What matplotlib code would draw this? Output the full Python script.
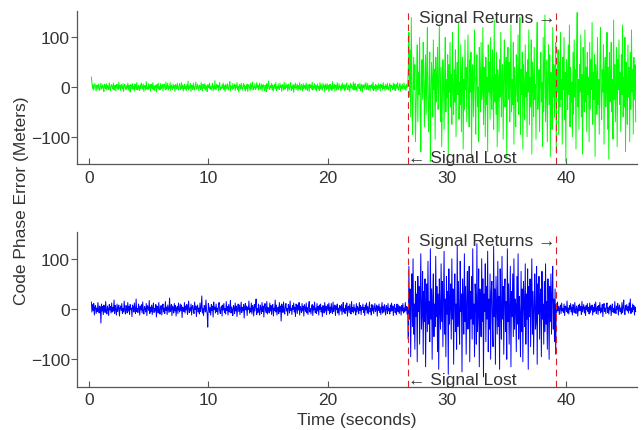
"""Code phase error before and after losing the signal."""

import matplotlib

matplotlib.use("Agg")
import matplotlib.pyplot as plt
import matplotlib.transforms as mtransforms
import numpy as np

plt.rcParams["font.family"] = ["Liberation Sans", "DejaVu Sans"]

# sampling of both traces (seconds)
T_START = 0.2
SAMPLE_DT = 0.05

LOST_T = 26.7
RETURN_T = 39.1

# top trace (green)
GREEN_QUIET = [
    20, 9, -3, 5, -6, 2, 7, -1, -8, 4, 3, -5, 6, -2, -7, 1, 8, -4, 0, 5,
    -3, -9, 6, 2, -4, 7, -6, 3, 1, -5, 9, -2, -7, 4, 5, -1, -3, 8, -6, 2,
    4, -8, 1, 6, -3, -5, 10, -2, 3, -7, 5, 0, -4, 7, -9, 2, 6, -1, -5, 3,
    -2, 8, -6, 4, -1, -10, 5, 3, -4, 7, -3, 1, -8, 6, 2, -5, 9, -2, -6, 4,
    1, -7, 5, -3, 8, -1, -4, 6, -9, 3, 2, -6, 11, -3, 0, -5, 7, -2, 4, -8,
    6, -1, -3, 9, -5, 2, -7, 4, 3, -10, 5, -2, 8, -4, 1, -6, 7, -3, -1, 5,
    -8, 3, 6, -2, -5, 10, -4, 1, 7, -6, 2, -3, 9, -7, 4, 0, -5, 6, -2, 3,
    -9, 5, 2, -4, 8, -1, -6, 3, 7, -5, -2, 9, -3, 4, -8, 1, 6, -4, 2, -7,
    5, -3, 12, -6, 1, -2, 7, -9, 4, 3, -5, 8, -1, -6, 2, 10, -4, -3, 6, -1,
    -7, 4, 2, -5, 9, -2, -8, 6, 1, -3, 7, -6, 3, -1, -9, 5, 4, -2, 8, -4,
    1, -6, 3, 7, -8, 2, -4, 13, -3, -5, 6, -1, 4, -7, 2, 9, -6, 0, -3, 5,
    -2, 8, -5, 3, -9, 6, 1, -4, 7, -2, -6, 4, 11, -8, 3, -1, -5, 7, -3, 2,
    6, -7, 4, -2, 9, -5, 1, -10, 5, 3, -4, 8, -1, -6, 2, 7, -3, 4, -8, 1,
    -3, 6, -9, 2, 5, -1, -7, 8, -4, 3, 10, -6, 1, -2, 7, -5, -3, 9, -1, 4,
    -6, 2, 8, -4, -1, 6, -8, 3, 5, -2, -7, 4, 1, -9, 7, -3, 2, 12, -5, -4,
    3, -1, 7, -6, 4, -8, 2, 5, -3, 9, -7, 1, -4, 6, -2, -5, 8, -1, 3, -9,
    5, 2, -6, 10, -3, -4, 7, -1, 4, -8, 6, -2, -5, 3, 9, -7, 1, -3, 5, -11,
    4, -2, 8, -5, 1, 6, -7, 3, -4, 9, -1, -6, 5, 2, -8, 7, -3, 0, 4, -5,
    8, -3, -7, 5, 2, -9, 6, -1, 3, -4, 10, -6, 1, -2, 7, -5, 4, -8, 2, 6,
    -3, 1, -7, 9, -4, 5, -2, -6, 8, -1, 3, -10, 6, 2, -5, 7, -3, 4, -9, 1,
    6, -4, 2, -7, 11, -3, -1, 5, -8, 4, 3, -6, 9, -2, -5, 7, -1, 2, -8, 5,
    -4, 8, -2, 3, -7, 6, -5, 1, 9, -3, -6, 4, 2, -9, 7, -1, 5, -4, -2, 10,
    -6, 3, 7, -5, 1, -8, 4, 6, -2, -3, 8, -7, 2, 5, -10, 3, -1, 6, -4, 2,
    9, -5, -2, 7, -6, 1, 4, -8, 3, -1, 6, -4, 10, -7, 2, -3, 5, -9, 4, 1,
    -5, 7, -2, 3, -8, 6, -1, 4, -6, 9, -3, 2, -7, 5, 1, -4, 8, -2, -6, 3,
    7, -9, 4, -1, 2, -5, 8, -3, 6, -7, 1, 5, -4, 9, -2, -6, 3, 7, -8, 2,
    -3, 6, -5, 1, 8, -4, 2, -7, 5, -1, 3,
]
GREEN_LOST = [
    35, 110, -20, 75, -60, 140, 15, -95, -30, 60, -5, 45, -110, -40, 20, 85, -70, 30, -15, 100,
    -45, -130, 10, 55, -25, 90, 40, -80, -10, 65, -55, 25, 120, -35, -90, 5, 70, -150, -20, 50,
    15, -60, 95, -5, 35, -105, 60, -30, 10, 80, -45, -15, 125, 20, -70, 40, -120, -25, 55, 5,
    -85, 30, 100, -50, 15, -20, 65, -135, 45, -10, 90, -40, 25, -75, 110, 0, -55, 35, -30, 75,
    -100, 20, 50, -15, 130, -65, 10, -35, 85, -90, 30, 60, -125, 15, -45, 95, -5, 40, -70, 20,
    105, -30, -80, 55, -10, 70, -140, 25, 45, -60, 10, 115, -20, -95, 35, 65, -40, 0, -110, 80,
    30, -50, 90, -25, -5, 120, -75, 40, 15, -100, 60, -35, 20, -130, 85, -10, 50, -65, 100, -15,
    -45, 75, 5, -85, 135, -30, 25, -55, 70, -120, 35, 10, -90, 55, -20, 110, -60, 15, 45, -105,
    20, 95, -40, -10, 60, -145, 30, 80, -25, 50, -70, 5, 125, -50, 15, -35, 90, -115, 40, -5,
    -80, 65, 10, -30, 105, -55, 25, 140, -95, 35, -15, 70, -125, 45, 0, -65, 85, -20, 30, -100,
    55, -10, 115, -75, 20, -40, 95, -135, 50, 15, -60, 80, -25, 5, -105, 60, 130, -45, -15, 35,
    -90, 25, 70, -30, 10, -120, 100, -50, 40, 145, -70, -5, 55, -110, 20, 85, -35, 65, -140, 30,
    15, -85, 120, -20, 45, -60, 5, 90, -130, 35, -10, 75, -95, 50, -40, 110, -25, 15, -115, 60,
    -5, 100, -65, 30, -150, 55, 20, -45, 85, -15, 125, -80, 40, -30, 10, -100, 70, -55, 95, -20,
    35, -125, 60, 150, -40, 15, -85, 45, -10, 105, -60, 25, -135, 80, 5, -50, 115, -30, 40, -90,
    70, -15, 20, -110, 90, -45, 55, -5, 130, -75, 30, -25, 65, -140, 45, 10, -55, 100, -35, 15,
    -95, 50, 120, -20, -65, 35, -10, 85, -115, 25, 60, -40, 5, 110, -85, 40, -145, 70, -30, 20,
    90, -50, 15, -105, 135, -25, 45, -70, 10, 80, -120, 55, -5, 95, -35, 30, -90, 65, -15, 125,
    -60, 20, -40, 100, -130, 50, 5, -75, 85, -20, 40, -110, 70, -45, 115, -10, 35, -95, 60, -25,
    45, -70,
]

# bottom trace (blue)
BLUE_BEFORE = [
    14, -6, 9, -3, 11, -12, 4, 7, -9, 2, -5, 13, -1, -8, 6, 3, -28, 10, -4, 5,
    -11, 8, 2, -7, 15, -3, -10, 6, 1, -13, 9, -2, 5, -8, 12, -6, 3, -4, 18, -9,
    7, -1, -12, 10, -5, 4, 8, -14, 2, 6, -3, 11, -9, 1, -6, 16, -2, -10, 7, 3,
    -8, 13, -4, 5, -11, 9, -1, 2, -15, 8, 4, -6, 12, -3, -9, 20, -5, 1, -7, 10,
    3, -12, 6, -2, 9, -8, 14, -4, -10, 5, 1, -6, 11, -13, 7, 2, -3, 17, -9, 4,
    -5, 8, -11, 3, 12, -7, 1, -4, 9, -16, 6, 2, -8, 13, -1, -10, 5, 7, -12, 3,
    10, -6, 2, -9, 15, -3, 4, -11, 8, 1, -7, 22, -5, -2, 9, -13, 6, 3, -8, 11,
    -4, 7, -14, 2, 5, -9, 12, -1, -6, 10, -3, 8, -17, 4, 1, -5, 13, -8, 6, -2,
    9, -11, 3, 16, -7, 2, -4, 10, -12, 5, 7, -3, -9, 14, -1, 6, -15, 4, 8, -6,
    2, -10, 12, -5, 3, 26, -8, 1, -13, 7, 4, -6, 18, -2, -9, -36, 11, 5, -7, 3,
    -12, 9, -3, 6, -16, 14, -1, 4, -8, 10, -5, 2, -11, 7, 13, -4, -9, 3, 6, -14,
    8, -2, 11, -7, 1, -10, 15, -3, 5, -12, 9, -6, 2, 17, -8, 4, -1, -13, 7, 3,
    -9, 12, -4, 6, -15, 2, 10, -5, 8, -11, 1, 14, -7, 3, -3, 9, -18, 5, 11, -2,
    6, -13, 4, -1, 16, -8, 2, -6, 12, -10, 7, 3, -14, 9, -4, 5, 20, -11, 1, -7,
    10, -3, -12, 8, 2, -9, 13, -5, 6, -16, 4, 11, -2, -7, 15, -10, 3, 1, -8, 12,
    -4, 7, -11, 5, 9, -14, 2, -3, 18, -6, 8, -12, 1, 4, -9, 13, -5, 6, -24, 10,
    3, -7, 14, -2, -10, 6, 11, -4, 1, -13, 9, 5, -8, 16, -3, 2, -11, 7, -1, 12,
    -6, 4, -15, 10, 3, -9, 8, -2, 13, -12, 5, 1, -7, 11, -4, 6, -14, 9, 2, -5,
    12, -8, 3, -11, 7, 15, -6, 1, -10, 4, 9, -13, 6, -2, 14, -7, 2, -9, 11, -4,
    5, -12, 8, -1, 10, -6, 3, -15, 7, 2, -8, 13, -4, 6, -11, 1, 9, -3, 12, -10,
    4, -7, 11, -2, -9, 14, -5, 3, 8, -13, 6, -1, 10, -8, 2, -12, 7, 5, -4, 9,
    -11, 3, 13, -6, 1, -9, 8, -3, 12, -14, 4, 6, -7, 10, -2, -10, 15, -5, 3, -8,
    9, -4, 2, -12, 11, -6, 5, 1, -9, 13, -3, 7, -11, 4, -1, 10, -7, 3, -13, 8,
    -2, 12, -8, 5, -10, 3, 14, -6, 1, -12, 9, -4, 7, -9, 2, 11, -5, -1, 8, -14,
    6, -3, 10, -7, 4, -11, 2, 13, -8, 5, -6, 9, -2, -12, 7, 3, -9, 11, -4, 1,
    -10, 8, -5, 12, -3, 6, -13, 4, 9, -7, 2, -11, 10, -1, -6, 8, -9, 5, 3, -12,
    7, -4, 11, -8, 2, -6, 13, -3, 5, -10, 4,
]
BLUE_LOST = [
    -60, 85, -20, 40, -95, 15, 70, -35, 100, -50, 10, -80, 55, -15, 30, -105, 65, -5, 45, -70,
    20, 110, -40, -10, 75, -90, 35, -25, 60, -115, 5, 50, -45, 95, -30, 15, -65, 120, -20, 40,
    -100, 25, 70, -55, 10, -35, 105, -15, 45, -85, 30, -120, 60, 0, -40, 90, -25, 55, -75, 15,
    115, -50, 20, -95, 65, -10, 35, -130, 80, -30, 5, 50, -60, 100, -20, 40, -110, 25, 70, -45,
    10, -80, 125, -35, 55, -15, -70, 95, -5, 30, -125, 60, 20, -50, 110, -25, 45, -90, 15, 75,
    -40, 5, 85, -105, 35, -20, 65, -60, 120, -30, 10, -95, 50, 25, -70, 130, -45, -10, 80, -115,
    40, 15, -55, 100, -25, 60, -135, 30, -5, 90, -65, 45, -20, 115, -85, 20, -40, 70, -100, 35,
    55, -30, -75, 125, -15, 40, -110, 65, 10, -50, 95, -35, 25, -120, 80, -5, -60, 105, -20, 45,
    -90, 30, 60, -45, 15, -100, 120, -25, 50, -70, 5, 85, -115, 35, -15, 70, -55, 100, -40, 20,
    10, -85, 65, -30, 110, -60, 25, -10, -95, 75, -45, 40, -105, 55, 15, -35, 90, -70, 30, -20,
    80, -120, 45, -15, 60, -75, 20, 100, -50, 35, -90, 5, 70, -40, -25, 85, -110, 50, -10, 65,
    -60, 25, 40, -95, 75, -20, 10, -70, 55, -45, 90, -30, 15, -80, 60, -5, -100, 45, -25, 70,
    -50, 30, 85, -40, 20, -65, 40, -90,
]
BLUE_AFTER = [
    9, -6, 14, -3, 5, -11, 2, 8, -9, 12, -4, 1, -7, 10, -13, 6, 3, -5, 16, -8,
    2, -10, 7, -1, 11, -6, 4, -12, 9, 3, -7, 13, -2, -9, 6, 1, -14, 8, -4, 10,
    -3, 5, -11, 15, -6, 2, 9, -8, 4, -13, 7, -1, 11, -5, 3, -10, 12, -7, 6, -2,
    8, -12, 3, -6, 10, -4, 14, -9, 1, 5, -11, 7, -3, 13, -8, 2, -6, 9, -15, 4,
    11, -5, 2, -9, 7, 12, -7, 3, -10, 6, -2, 8, -13, 4, 10, -6, 1, -8, 15, -3,
    -9, 6, -1, 11, -12, 4, 8, -5, 2, -10, 13, -7, 3, 18, -6, -11, 7, -2, 9, -4,
    5, -8, 12, -3, 20, -9, 2, -6, 10, -1, 7, -12, 4, -5,
]

X_TICKS = [0, 10, 20, 30, 40]
Y_TICKS = [-100, 0, 100]

INK = "#333333"
FS = 12.5


def style_axis(ax):
    ax.set_xlim(-1, 45.9)
    ax.set_ylim(-155, 153)
    ax.set_xticks(X_TICKS)
    ax.set_yticks(Y_TICKS)
    for side in ("top", "right"):
        ax.spines[side].set_visible(False)
    for side in ("left", "bottom"):
        ax.spines[side].set_color("#555555")
        ax.spines[side].set_linewidth(0.9)
    ax.tick_params(axis="x", direction="in", length=4, width=0.8,
                   colors="#555555", labelcolor=INK, labelsize=FS, pad=4)
    ax.tick_params(axis="y", direction="out", length=4, width=0.8,
                   colors="#555555", labelcolor=INK, labelsize=FS, pad=1)


def mark_outage(ax, returns_y, lost_y):
    for t in (LOST_T, RETURN_T):
        ax.axvline(t, color="#d8202a", linestyle=(0, (6, 4)), linewidth=0.8)
    trans = mtransforms.blended_transform_factory(ax.transData, ax.transAxes)
    ax.text(RETURN_T - 0.05, returns_y, "Signal Returns \u2192", transform=trans,
            ha="right", va="center", fontsize=FS, color=INK)
    ax.text(LOST_T + 0.05, lost_y, "\u2190 Signal Lost", transform=trans,
            ha="left", va="center", fontsize=FS, color=INK)


green = np.array(GREEN_QUIET + GREEN_LOST, dtype=float)
blue = np.array(BLUE_BEFORE + BLUE_LOST + BLUE_AFTER, dtype=float)
t_green = T_START + SAMPLE_DT * np.arange(len(green))
t_blue = T_START + SAMPLE_DT * np.arange(len(blue))

fig = plt.figure(figsize=(6.42, 4.31), dpi=100)
ax_top = fig.add_axes([0.12, 0.617, 0.872, 0.355])
ax_bot = fig.add_axes([0.12, 0.100, 0.872, 0.359])

ax_top.plot(t_green, green, color="#00ff00", linewidth=0.7)
ax_bot.plot(t_blue, blue, color="#0000ff", linewidth=0.7)

for ax in (ax_top, ax_bot):
    style_axis(ax)
mark_outage(ax_top, 0.96, 0.046)
mark_outage(ax_bot, 0.948, 0.05)

ax_bot.set_xlabel("Time (seconds)", fontsize=FS, color=INK, labelpad=3)
fig.text(0.034, 0.535, "Code Phase Error (Meters)", rotation=90,
         ha="center", va="center", fontsize=FS, color=INK)

fig.savefig("out.png")
